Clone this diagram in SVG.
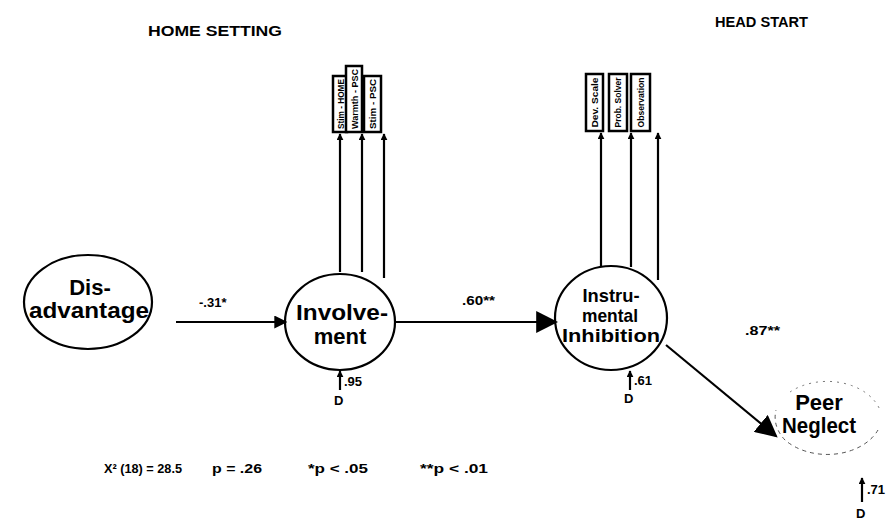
<svg xmlns="http://www.w3.org/2000/svg" width="886" height="523" viewBox="0 0 886 523">
<style>
.t{font-family:"Liberation Sans",Arial,sans-serif;fill:#000}
.hd{font-size:14px;font-weight:bold}
.nd{font-size:22px;font-weight:bold;text-anchor:middle}
.ns{font-size:19px;font-weight:bold;text-anchor:middle}
.lb{font-size:13px;font-weight:bold}
.ft{font-size:12px;font-weight:bold}
.bx{font-size:9px;font-weight:bold;text-anchor:middle}
.el{fill:#fff;stroke:#000;stroke-width:2.2}
.rc{fill:#fff;stroke:#000;stroke-width:2.5}
.ln{stroke:#000;stroke-width:2.2;fill:none}
</style>
<defs>
<marker id="ah" viewBox="0 0 10 10" refX="9" refY="5" markerWidth="7" markerHeight="7" markerUnits="userSpaceOnUse" orient="auto"><path d="M0,0 L10,5 L0,10 z" fill="#000"/></marker>
<marker id="am" viewBox="0 0 10 10" refX="9" refY="5" markerWidth="13" markerHeight="13" markerUnits="userSpaceOnUse" orient="auto"><path d="M0,0 L10,5 L0,10 z" fill="#000"/></marker>
<marker id="al" viewBox="0 0 10 10" refX="9" refY="5" markerWidth="22" markerHeight="22" markerUnits="userSpaceOnUse" orient="auto"><path d="M0,0 L10,5 L0,10 z" fill="#000"/></marker>
</defs>
<rect width="886" height="523" fill="#fff"/>
<text class="t hd" x="148" y="36" textLength="134" lengthAdjust="spacingAndGlyphs">HOME SETTING</text>
<text class="t hd" x="715" y="27" textLength="93" lengthAdjust="spacingAndGlyphs">HEAD START</text>

<g id="disadvantage">
<ellipse class="el" cx="88" cy="302" rx="64" ry="47"/>
<text class="t nd" x="90" y="295">Dis-</text>
<text class="t nd" x="89" y="318" textLength="120" lengthAdjust="spacingAndGlyphs">advantage</text>
</g>

<g id="involvement">
<ellipse class="el" cx="340" cy="322" rx="55" ry="48"/>
<text class="t nd" x="342" y="320" textLength="92" lengthAdjust="spacingAndGlyphs">Involve-</text>
<text class="t nd" x="340" y="344">ment</text>
</g>

<g id="instrumental">
<ellipse class="el" cx="611" cy="318" rx="56" ry="52"/>
<text class="t ns" x="611" y="302" textLength="57" lengthAdjust="spacingAndGlyphs">Instru-</text>
<text class="t ns" x="610" y="322" textLength="56" lengthAdjust="spacingAndGlyphs">mental</text>
<text class="t ns" x="611" y="342" textLength="98" lengthAdjust="spacingAndGlyphs">Inhibition</text>
</g>

<g id="peer">
<path d="M 790 392 A 55 40 0 0 1 880 410" fill="none" stroke="#777" stroke-width="1" stroke-dasharray="2,5"/>
<path d="M 878 430 A 55 40 0 0 1 785 440 A 55 40 0 0 1 776 410" fill="none" stroke="#555" stroke-width="1" stroke-dasharray="4,4"/>
<text class="t nd" x="819" y="410">Peer</text>
<text class="t nd" x="819" y="433" textLength="74" lengthAdjust="spacingAndGlyphs">Neglect</text>
</g>

<g id="box-stim-home">
<rect class="rc" x="333" y="76" width="14" height="56"/>
<text class="t bx" transform="translate(343.5,104) rotate(-90)" textLength="50" lengthAdjust="spacingAndGlyphs">Stim - HOME</text>
</g>
<g id="box-warmth-psc">
<rect class="rc" x="346" y="66" width="16" height="66"/>
<text class="t bx" transform="translate(357.5,99) rotate(-90)" textLength="60" lengthAdjust="spacingAndGlyphs">Warmth - PSC</text>
</g>
<g id="box-stim-psc">
<rect class="rc" x="364" y="76" width="17" height="56"/>
<text class="t bx" transform="translate(375.5,104) rotate(-90)" textLength="50" lengthAdjust="spacingAndGlyphs">Stim - PSC</text>
</g>
<g id="box-dev-scale">
<rect class="rc" x="586" y="74" width="17" height="57"/>
<text class="t bx" transform="translate(597.5,102.5) rotate(-90)" textLength="50" lengthAdjust="spacingAndGlyphs">Dev. Scale</text>
</g>
<g id="box-prob-solver">
<rect class="rc" x="609" y="74" width="18" height="57"/>
<text class="t bx" transform="translate(621,102.5) rotate(-90)" textLength="50" lengthAdjust="spacingAndGlyphs">Prob. Solver</text>
</g>
<g id="box-observation">
<rect class="rc" x="631" y="74" width="19" height="57"/>
<text class="t bx" transform="translate(643.5,102.5) rotate(-90)" textLength="50" lengthAdjust="spacingAndGlyphs">Observation</text>
</g>

<g id="d-labels">
<text class="t lb" x="334" y="405">D</text>
<text class="t lb" x="624" y="403">D</text>
<text class="t lb" x="856" y="518">D</text>
</g>

<g id="connectors">
<line class="ln" x1="176" y1="322" x2="286" y2="322" marker-end="url(#am)"/>
<line class="ln" x1="396" y1="322" x2="556" y2="322" marker-end="url(#al)"/>
<line class="ln" x1="666" y1="345" x2="776" y2="436" marker-end="url(#al)"/>
<line class="ln" x1="340" y1="272" x2="340" y2="134" marker-end="url(#ah)"/>
<line class="ln" x1="362" y1="272" x2="362" y2="134" marker-end="url(#ah)"/>
<line class="ln" x1="384" y1="278" x2="384" y2="134" marker-end="url(#ah)"/>
<line class="ln" x1="601" y1="267" x2="601" y2="133" marker-end="url(#ah)"/>
<line class="ln" x1="631" y1="267" x2="631" y2="133" marker-end="url(#ah)"/>
<line class="ln" x1="658" y1="280" x2="658" y2="133" marker-end="url(#ah)"/>
<line class="ln" x1="340" y1="390" x2="340" y2="371" marker-end="url(#ah)"/>
<line class="ln" x1="630" y1="390" x2="630" y2="371" marker-end="url(#ah)"/>
<line class="ln" x1="862" y1="502" x2="862" y2="478" marker-end="url(#ah)"/>
<text class="t lb" x="199" y="307">-.31*</text>
<text class="t lb" x="462" y="305" textLength="33" lengthAdjust="spacingAndGlyphs">.60**</text>
<text class="t lb" x="745" y="335" textLength="35" lengthAdjust="spacingAndGlyphs">.87**</text>
<text class="t lb" x="344" y="386">.95</text>
<text class="t lb" x="634" y="385">.61</text>
<text class="t lb" x="867" y="494">.71</text>
</g>

<g id="footer">
<text class="t ft" x="104" y="473" textLength="78" lengthAdjust="spacingAndGlyphs">X² (18) = 28.5</text>
<text class="t ft" x="212" y="473" textLength="50" lengthAdjust="spacingAndGlyphs">p  = .26</text>
<text class="t ft" x="308" y="473" textLength="60" lengthAdjust="spacingAndGlyphs">*p &lt; .05</text>
<text class="t ft" x="420" y="473" textLength="68" lengthAdjust="spacingAndGlyphs">**p &lt; .01</text>
</g>
</svg>
